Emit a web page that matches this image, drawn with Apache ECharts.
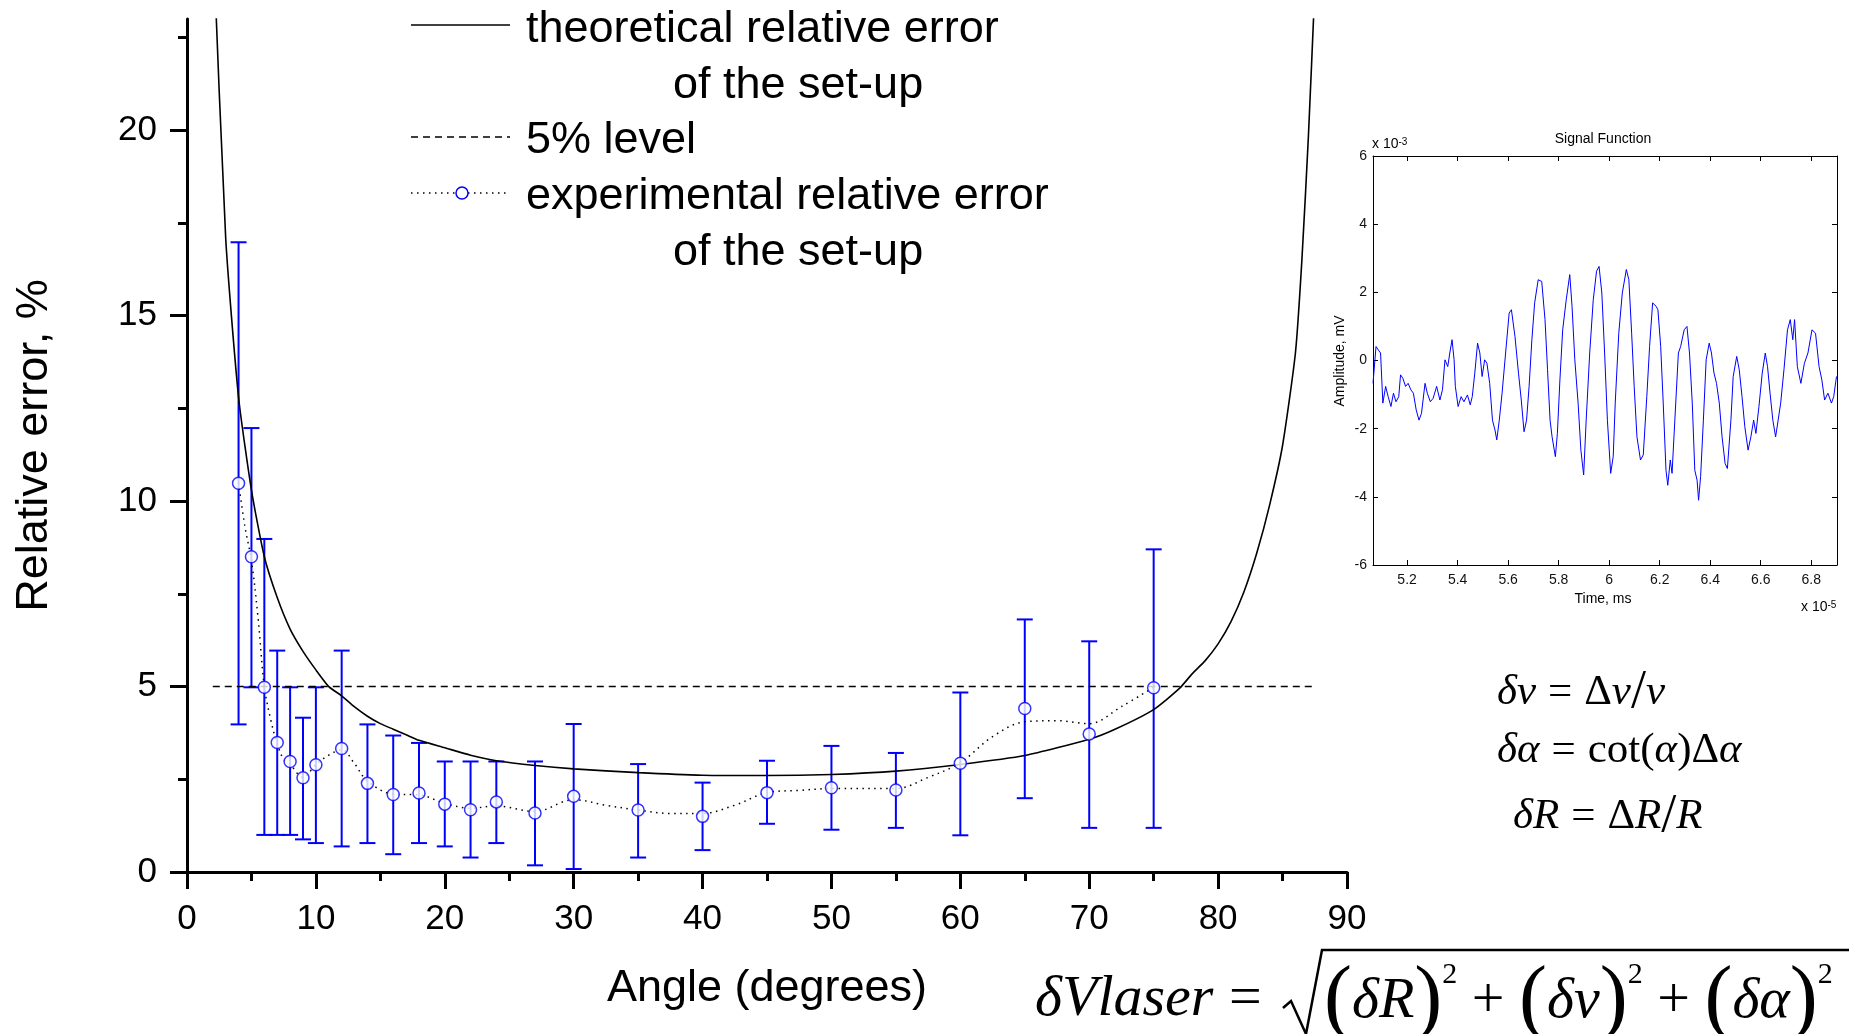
<!DOCTYPE html>
<html>
<head>
<meta charset="utf-8">
<script src="https://cdn.jsdelivr.net/npm/echarts@6/dist/echarts.min.js"></script>
<style>
html, body { margin: 0; padding: 0; background: #fff; }
#chart { width: 1849px; height: 1034px; }
</style>
</head>
<body>
<div id="chart"></div>
<script>
// experimental points with error bars
const expAngle = [4, 5, 6, 7, 8, 9, 10, 12, 14, 16, 18, 20, 22, 24, 27, 30, 35, 40, 45, 50, 55, 60, 65, 70, 75];
const expError = [10.48, 8.5, 4.98, 3.49, 2.98, 2.54, 2.89, 3.33, 2.39, 2.09, 2.13, 1.83, 1.68, 1.89, 1.59, 2.04, 1.67, 1.5, 2.14, 2.27, 2.21, 2.93, 4.41, 3.72, 4.97];
const expLow = [3.98, 4.98, 1.0, 1.0, 1.0, 0.88, 0.78, 0.69, 0.78, 0.48, 0.78, 0.69, 0.39, 0.78, 0.18, 0.08, 0.39, 0.59, 1.3, 1.14, 1.19, 0.99, 1.99, 1.19, 1.19];
const expHigh = [16.98, 11.97, 8.98, 5.97, 4.98, 4.16, 4.98, 5.97, 3.98, 3.68, 3.48, 2.98, 2.98, 2.98, 2.98, 3.99, 2.91, 2.41, 3.0, 3.4, 3.21, 4.84, 6.81, 6.22, 8.7];

// dotted smoothing curve through the experimental points
const fitAngle = [4, 4.5, 5, 5.5, 6, 6.5, 7, 7.5, 8, 9, 10, 11, 12, 13, 14, 16, 18, 20, 22, 24, 27, 30, 32.5, 35, 37.5, 40, 42.5, 45, 47.5, 50, 55, 57.5, 60, 62.5, 65, 67.5, 70, 72.5, 75];
const fitError = [10.5, 9.3, 8.4, 6.9, 5.0, 4.1, 3.45, 3.04, 2.9, 2.55, 2.9, 3.15, 3.3, 2.92, 2.45, 2.1, 2.08, 1.85, 1.72, 1.78, 1.63, 1.95, 1.8, 1.67, 1.58, 1.58, 1.8, 2.14, 2.2, 2.25, 2.25, 2.55, 2.95, 3.65, 4.05, 4.08, 4.0, 4.46, 4.98];

// theoretical relative error of the set-up
const thAngle = [2, 3, 4, 5, 6, 7, 8, 9, 10, 11, 12, 13, 14, 15, 16, 17, 18, 20, 22, 24, 27, 30, 35, 40, 45, 50, 55, 60, 65, 70, 72, 75, 77, 78, 79, 80, 81, 82, 83, 84, 85, 86, 86.5, 87, 87.5, 88];
const thError = [25.4, 17.1, 12.8, 10.3, 8.5, 7.4, 6.55, 5.95, 5.45, 5.0, 4.75, 4.45, 4.2, 4.0, 3.85, 3.7, 3.55, 3.35, 3.15, 3.0, 2.87, 2.78, 2.68, 2.61, 2.6, 2.63, 2.72, 2.9, 3.14, 3.58, 3.85, 4.38, 4.95, 5.35, 5.7, 6.15, 6.75, 7.55, 8.6, 9.9, 11.5, 14.0, 16.5, 19.8, 23.8, 28];

// 5% level
const levelAngle = [2, 87.6];
const levelError = [5, 5];

const xTicks = [0, 10, 20, 30, 40, 50, 60, 70, 80, 90];
const yTicks = [0, 5, 10, 15, 20];
const yMinorTicks = [2.5, 7.5, 12.5, 17.5, 22.5];

// inset: signal function (time x1e-5, amplitude x1e-3)
const signalTime = [
  5.065, 5.077, 5.086, 5.095, 5.104, 5.115, 5.125, 5.136, 5.146, 5.156,
  5.167, 5.174, 5.183, 5.194, 5.204, 5.215, 5.225, 5.236, 5.247, 5.257,
  5.271, 5.280, 5.292, 5.303, 5.317, 5.330, 5.340, 5.350, 5.361, 5.369,
  5.378, 5.386, 5.391, 5.402, 5.414, 5.425, 5.439, 5.450, 5.458, 5.468,
  5.479, 5.488, 5.497, 5.507, 5.516, 5.527, 5.538, 5.548, 5.555, 5.565,
  5.576, 5.590, 5.604, 5.613, 5.627, 5.641, 5.652, 5.663, 5.673, 5.683,
  5.694, 5.705, 5.719, 5.733, 5.746, 5.756, 5.766, 5.774, 5.787, 5.795,
  5.805, 5.816, 5.830, 5.844, 5.853, 5.864, 5.877, 5.888, 5.899, 5.909,
  5.923, 5.937, 5.950, 5.960, 5.971, 5.982, 5.993, 6.006, 6.016, 6.024,
  6.038, 6.052, 6.068, 6.078, 6.089, 6.099, 6.110, 6.124, 6.135, 6.149,
  6.160, 6.172, 6.186, 6.193, 6.204, 6.214, 6.225, 6.232, 6.242, 6.249,
  6.260, 6.274, 6.283, 6.297, 6.308, 6.318, 6.329, 6.339, 6.348, 6.354,
  6.362, 6.373, 6.384, 6.396, 6.405, 6.415, 6.425, 6.436, 6.447, 6.459,
  6.468, 6.482, 6.491, 6.505, 6.515, 6.526, 6.537, 6.550, 6.561, 6.572,
  6.581, 6.593, 6.606, 6.618, 6.627, 6.637, 6.648, 6.659, 6.669, 6.679,
  6.692, 6.706, 6.717, 6.727, 6.734, 6.745, 6.759, 6.773, 6.787, 6.803,
  6.817, 6.831, 6.842, 6.853, 6.866, 6.880, 6.889, 6.900
];
const signalAmp = [
  -0.67, 0.41, 0.31, 0.22, -1.25, -0.76, -1.06, -1.35, -0.96, -1.21,
  -1.06, -0.42, -0.52, -0.76, -0.67, -0.86, -0.96, -1.45, -1.75, -1.55,
  -0.67, -0.96, -1.21, -1.11, -0.76, -1.16, -0.86, 0.02, -0.18, 0.22,
  0.61, 0.02, -0.76, -1.35, -1.06, -1.21, -1.01, -1.30, -1.06, -0.37,
  0.51, 0.22, -0.47, 0.02, -0.08, -0.67, -1.75, -2.04, -2.33, -1.75,
  -0.96, 0.22, 1.39, 1.49, 0.71, -0.37, -1.16, -2.09, -1.75, -0.76,
  0.61, 1.69, 2.37, 2.32, 1.20, -0.27, -1.75, -2.24, -2.82, -2.14,
  -0.57, 0.90, 1.78, 2.52, 1.59, 0.02, -1.25, -2.63, -3.36, -1.75,
  0.22, 1.78, 2.62, 2.76, 1.98, 0.22, -1.75, -3.31, -2.82, -1.25,
  0.80, 1.98, 2.67, 2.37, 0.80, -0.76, -2.24, -2.92, -2.77, -1.06,
  0.41, 1.69, 1.59, 1.49, 0.41, -1.25, -3.22, -3.66, -2.92, -3.31,
  -1.75, 0.22, 0.41, 0.90, 1.00, 0.22, -1.25, -3.22, -3.51, -4.10,
  -3.41, -1.75, 0.02, 0.51, 0.22, -0.37, -0.67, -1.25, -2.24, -3.02,
  -3.17, -1.75, -0.47, 0.12, -0.27, -1.06, -1.94, -2.63, -2.24, -1.75,
  -2.14, -1.35, -0.37, 0.22, -0.18, -0.96, -1.75, -2.24, -1.75, -1.25,
  -0.27, 0.90, 1.20, 0.61, 1.20, -0.18, -0.67, -0.08, 0.22, 0.90,
  0.80, -0.18, -0.57, -1.16, -0.96, -1.25, -1.06, -0.47
];
const insetXTicks = [5.2, 5.4, 5.6, 5.8, 6.0, 6.2, 6.4, 6.6, 6.8];

const SANS = 'Liberation Sans, Arial, Helvetica, sans-serif';
const SERIF = 'Liberation Serif, Times New Roman, serif';
const BLUE = '#0000ff';

const chart = echarts.init(document.getElementById('chart'));

function txt(text, x, y, size, opts) {
  opts = opts || {};
  return {
    type: 'text', x: x, y: y, rotation: opts.rotation || 0, z: 20,
    style: {
      text: text, fill: '#000',
      fontSize: size, fontFamily: opts.family || SANS, fontStyle: opts.italic ? 'italic' : 'normal',
      align: opts.align || 'left', textAlign: opts.align || 'left',
      verticalAlign: 'middle', textVerticalAlign: 'middle',
      rich: opts.rich
    }
  };
}

function seg(x1, y1, x2, y2, dash, width) {
  return {
    type: 'line', z: 20,
    shape: { x1: x1, y1: y1, x2: x2, y2: y2 },
    style: { stroke: '#000', lineWidth: width || 1.6, lineDash: dash || null }
  };
}

const mathRich = {
  i: { fontFamily: SERIF, fontStyle: 'italic', fontSize: 43, verticalAlign: 'middle' },
  n: { fontFamily: SERIF, fontSize: 43, verticalAlign: 'middle' },
  sl: { fontFamily: SERIF, fontSize: 54, verticalAlign: 'middle' }
};
const bigRich = {
  i: { fontFamily: SERIF, fontStyle: 'italic', fontSize: 58, verticalAlign: 'middle' },
  o: { fontFamily: SERIF, fontSize: 58, verticalAlign: 'middle' },
  p: { fontFamily: SERIF, fontSize: 84, verticalAlign: 'middle', lineHeight: 84 },
  s: { fontFamily: SERIF, fontSize: 30, verticalAlign: 'top' }
};
const smallRich = {
  t: { fontFamily: SANS, fontSize: 14, verticalAlign: 'bottom' },
  u: { fontFamily: SANS, fontSize: 10, verticalAlign: 'top' }
};

const LF = 45;
const graphic = [
  // legend
  seg(411, 25, 510, 25),
  txt('theoretical relative error', 526, 30, LF),
  txt('of the set-up', 673, 86, LF),
  seg(411, 137, 510, 137, [7, 5]),
  txt('5% level', 526, 141, LF),
  seg(411, 193, 456, 193, [1.5, 4.5]),
  seg(468, 193, 510, 193, [1.5, 4.5]),
  { type: 'circle', z: 21, shape: { cx: 462, cy: 193, r: 6 }, style: { fill: '#fff', stroke: BLUE, lineWidth: 1.5 } },
  txt('experimental relative error', 526, 197, LF),
  txt('of the set-up', 673, 253, LF),

  // inset texts
  txt('Signal Function', 1603, 139, 14, { align: 'center' }),
  txt('{t|x 10}{u|-3}', 1372, 144, 14, { rich: smallRich }),
  txt('Amplitude, mV', 1340, 361, 14, { align: 'center', rotation: Math.PI / 2 }),
  txt('Time, ms', 1603, 599, 14, { align: 'center' }),
  txt('{t|x 10}{u|-5}', 1801, 607, 14, { rich: smallRich }),

  // formulas
  txt('{i|δν} {n|=} {n|Δ}{i|ν}{sl|/}{i|ν}', 1497, 693, 43, { rich: mathRich }),
  txt('{i|δα} {n|=} {n|cot(}{i|α}{n|)Δ}{i|α}', 1497, 751, 43, { rich: mathRich }),
  txt('{i|δR} {n|=} {n|Δ}{i|R}{sl|/}{i|R}', 1513, 817, 43, { rich: mathRich }),
  txt('{i|δVlaser}', 1035, 1000, 58, { rich: bigRich }),
  txt('{o|=}', 1229, 1000, 58, { rich: bigRich }),
  {
    type: 'polyline', z: 20,
    shape: { points: [[1283, 1008], [1291, 1001], [1306, 1034], [1322, 950], [1849, 950]] },
    style: { stroke: '#000', lineWidth: 2.5, fill: null }
  },
  txt('{p|(}{i|δR}{p|)}{s|2}{o| + }{p|(}{i|δν}{p|)}{s|2}{o| + }{p|(}{i|δα}{p|)}{s|2}', 1324, 1002, 58, { rich: bigRich })
];

function errorBar(params, api) {
  const x = api.value(0);
  const lo = api.coord([x, api.value(1)]);
  const hi = api.coord([x, api.value(2)]);
  const w = 8;
  const style = { stroke: BLUE, lineWidth: 2 };
  return {
    type: 'group',
    children: [
      { type: 'line', shape: { x1: lo[0], y1: lo[1], x2: hi[0], y2: hi[1] }, style: style },
      { type: 'line', shape: { x1: lo[0] - w, y1: lo[1], x2: lo[0] + w, y2: lo[1] }, style: style },
      { type: 'line', shape: { x1: hi[0] - w, y1: hi[1], x2: hi[0] + w, y2: hi[1] }, style: style }
    ]
  };
}

const mainLabel = { fontSize: 35, fontFamily: SANS, color: '#000' };
const insetLabel = { fontSize: 14, fontFamily: SANS, color: '#111' };
const blackLine = { color: '#000', width: 3 };

const option = {
  animation: false,
  backgroundColor: '#fff',
  grid: [
    { left: 187, top: 19, width: 1160, height: 853 },
    { left: 1373, top: 156, width: 464, height: 409 }
  ],
  xAxis: [
    {
      gridIndex: 0, type: 'value', min: 0, max: 90, interval: 10,
      name: 'Angle (degrees)', nameLocation: 'middle', nameGap: 94,
      nameTextStyle: { fontSize: LF, fontFamily: SANS, color: '#000' },
      axisLine: { onZero: false, lineStyle: blackLine },
      axisTick: { length: 17, lineStyle: blackLine },
      minorTick: { show: true, splitNumber: 2, length: 9, lineStyle: blackLine },
      axisLabel: Object.assign({ margin: 30, customValues: xTicks }, mainLabel),
      splitLine: { show: false }
    },
    {
      gridIndex: 1, type: 'value', min: 5.065, max: 6.902, position: 'bottom',
      axisLine: { onZero: false, lineStyle: { color: '#000', width: 1 } },
      axisTick: { inside: true, length: 5, customValues: insetXTicks, lineStyle: { color: '#000' } },
      axisLabel: Object.assign({
        margin: 8, customValues: insetXTicks,
        formatter: function (v) { return String(parseFloat(v.toFixed(1))); }
      }, insetLabel),
      splitLine: { show: false }
    },
    {
      gridIndex: 1, type: 'value', min: 5.065, max: 6.902, position: 'top',
      axisLine: { onZero: false, lineStyle: { color: '#000', width: 1 } },
      axisTick: { inside: true, length: 5, customValues: insetXTicks, lineStyle: { color: '#000' } },
      axisLabel: { show: false },
      splitLine: { show: false }
    }
  ],
  yAxis: [
    {
      gridIndex: 0, type: 'value', min: 0, max: 23, interval: 5,
      name: 'Relative error, %', nameLocation: 'middle', nameGap: 130,
      nameTextStyle: { fontSize: LF, fontFamily: SANS, color: '#000' },
      axisLine: { show: true, onZero: false, lineStyle: blackLine },
      axisTick: { show: true, length: 17, customValues: yTicks, lineStyle: blackLine },
      axisLabel: Object.assign({ margin: 30, customValues: yTicks }, mainLabel),
      splitLine: { show: false }
    },
    {
      gridIndex: 0, type: 'value', min: 0, max: 23, position: 'left',
      axisLine: { show: false },
      axisTick: { show: true, length: 9, customValues: yMinorTicks, lineStyle: blackLine },
      axisLabel: { show: false },
      splitLine: { show: false }
    },
    {
      gridIndex: 1, type: 'value', min: -6, max: 6, interval: 2, position: 'left',
      axisLine: { show: true, onZero: false, lineStyle: { color: '#000', width: 1 } },
      axisTick: { show: true, inside: true, length: 5, lineStyle: { color: '#000' } },
      axisLabel: Object.assign({ margin: 6 }, insetLabel),
      splitLine: { show: false }
    },
    {
      gridIndex: 1, type: 'value', min: -6, max: 6, interval: 2, position: 'right',
      axisLine: { show: true, onZero: false, lineStyle: { color: '#000', width: 1 } },
      axisTick: { show: true, inside: true, length: 5, lineStyle: { color: '#000' } },
      axisLabel: { show: false },
      splitLine: { show: false }
    }
  ],
  series: [
    {
      name: 'theoretical relative error of the set-up', type: 'line',
      xAxisIndex: 0, yAxisIndex: 0, symbol: 'none', clip: true, smooth: 0.2,
      data: thAngle.map((a, i) => [a, thError[i]]),
      lineStyle: { color: '#000', width: 1.6 }
    },
    {
      name: '5% level', type: 'line', xAxisIndex: 0, yAxisIndex: 0, symbol: 'none',
      data: levelAngle.map((a, i) => [a, levelError[i]]),
      lineStyle: { color: '#000', width: 1.5, type: [7, 5] }
    },
    {
      name: 'fit', type: 'line', xAxisIndex: 0, yAxisIndex: 0, symbol: 'none', smooth: 0.35,
      data: fitAngle.map((a, i) => [a, fitError[i]]),
      lineStyle: { color: '#000', width: 1.5, type: [1.5, 4.5] }
    },
    {
      name: 'error bars', type: 'custom', xAxisIndex: 0, yAxisIndex: 0,
      renderItem: errorBar, z: 3,
      encode: { x: 0, y: [1, 2] },
      data: expAngle.map((a, i) => [a, expLow[i], expHigh[i]])
    },
    {
      name: 'experimental relative error of the set-up', type: 'scatter',
      xAxisIndex: 0, yAxisIndex: 0, symbol: 'circle', symbolSize: 12, z: 5,
      data: expAngle.map((a, i) => [a, expError[i]]),
      itemStyle: { color: '#fff', borderColor: BLUE, borderWidth: 1.5 }
    },
    {
      name: 'Signal Function', type: 'line', xAxisIndex: 1, yAxisIndex: 2,
      symbol: 'none', clip: true,
      data: signalTime.map((t, i) => [t, signalAmp[i]]),
      lineStyle: { color: BLUE, width: 1 }
    }
  ],
  graphic: graphic
};

chart.setOption(option);
</script>
</body>
</html>
